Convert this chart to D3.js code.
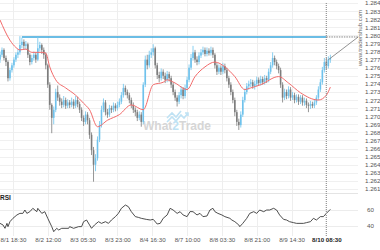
<!DOCTYPE html>
<html>
<head>
<meta charset="utf-8">
<script src="https://cdn.jsdelivr.net/npm/d3@7"></script>
<style>
  body { margin: 0; background: #fff; }
  svg { display: block; font-family: "Liberation Sans", Arial, sans-serif; }
</style>
</head>
<body>
<div id="chart"></div>
<script>
// hourly candles, open = previous close
const firstOpen = 1.2770;
const closes = [
  1.2776,1.2782,1.2772,1.2767,1.2747,1.2757,1.2763,1.2770,1.2776,1.2779,
  1.2788,1.2792,1.2787,1.2789,1.2776,1.2767,1.2772,1.2776,1.2770,1.2784,
  1.2788,1.2782,1.2776,1.2763,1.2739,1.2714,1.2698,1.2708,1.2730,1.2723,
  1.2718,1.2714,1.2720,1.2713,1.2717,1.2714,1.2718,1.2713,1.2720,1.2715,
  1.2708,1.2698,1.2693,1.2702,1.2695,1.2677,1.2658,1.2640,1.2648,1.2671,
  1.2689,1.2708,1.2717,1.2705,1.2702,1.2710,1.2708,1.2713,1.2710,1.2714,
  1.2718,1.2726,1.2735,1.2730,1.2726,1.2720,1.2714,1.2708,1.2705,1.2698,
  1.2702,1.2693,1.2739,1.2770,1.2763,1.2776,1.2779,1.2784,1.2763,1.2751,
  1.2747,1.2755,1.2750,1.2745,1.2752,1.2747,1.2739,1.2730,1.2723,1.2718,
  1.2726,1.2733,1.2725,1.2735,1.2745,1.2760,1.2772,1.2779,1.2770,1.2767,
  1.2775,1.2779,1.2782,1.2777,1.2781,1.2778,1.2782,1.2776,1.2763,1.2755,
  1.2760,1.2755,1.2762,1.2757,1.2747,1.2739,1.2730,1.2720,1.2705,1.2693,
  1.2689,1.2702,1.2720,1.2730,1.2737,1.2740,1.2742,1.2737,1.2740,1.2745,
  1.2741,1.2746,1.2742,1.2747,1.2745,1.2755,1.2763,1.2772,1.2767,1.2762,
  1.2757,1.2739,1.2723,1.2730,1.2725,1.2733,1.2723,1.2726,1.2720,1.2724,
  1.2718,1.2723,1.2717,1.2719,1.2714,1.2713,1.2715,1.2713,1.2717,1.2723,
  1.2733,1.2742,1.2757,1.2767,1.2762,1.2770,1.2772
];
const highs = [
  1.2780,1.2785,1.2784,1.2775,1.2769,1.2760,1.2766,1.2773,1.2779,1.2783,
  1.2799,1.2797,1.2795,1.2793,1.2791,1.2778,1.2776,1.2780,1.2779,1.2798,
  1.2792,1.2790,1.2785,1.2779,1.2765,1.2742,1.2716,1.2712,1.2734,1.2738,
  1.2727,1.2722,1.2725,1.2723,1.2721,1.2720,1.2723,1.2721,1.2725,1.2724,
  1.2718,1.2711,1.2701,1.2706,1.2705,1.2698,1.2680,1.2662,1.2653,1.2675,
  1.2694,1.2713,1.2722,1.2720,1.2709,1.2714,1.2713,1.2717,1.2716,1.2718,
  1.2722,1.2730,1.2740,1.2738,1.2733,1.2729,1.2723,1.2717,1.2711,1.2708,
  1.2706,1.2705,1.2742,1.2775,1.2776,1.2781,1.2784,1.2789,1.2786,1.2766,
  1.2755,1.2759,1.2758,1.2754,1.2756,1.2755,1.2750,1.2742,1.2733,1.2726,
  1.2730,1.2737,1.2736,1.2739,1.2749,1.2764,1.2777,1.2787,1.2782,1.2774,
  1.2779,1.2783,1.2786,1.2785,1.2785,1.2784,1.2786,1.2785,1.2778,1.2766,
  1.2764,1.2763,1.2766,1.2765,1.2760,1.2750,1.2742,1.2733,1.2723,1.2708,
  1.2697,1.2706,1.2724,1.2734,1.2741,1.2744,1.2746,1.2745,1.2744,1.2749,
  1.2748,1.2750,1.2749,1.2751,1.2750,1.2759,1.2767,1.2779,1.2775,1.2770,
  1.2765,1.2760,1.2742,1.2734,1.2733,1.2737,1.2736,1.2730,1.2729,1.2727,
  1.2727,1.2726,1.2726,1.2723,1.2722,1.2717,1.2719,1.2718,1.2720,1.2726,
  1.2737,1.2746,1.2761,1.2772,1.2772,1.2774,1.2776
];
const lows = [
  1.2766,1.2773,1.2769,1.2762,1.2743,1.2744,1.2754,1.2760,1.2767,1.2772,
  1.2776,1.2784,1.2783,1.2782,1.2772,1.2763,1.2764,1.2769,1.2766,1.2768,
  1.2780,1.2777,1.2771,1.2758,1.2735,1.2708,1.2679,1.2690,1.2705,1.2719,
  1.2713,1.2710,1.2711,1.2709,1.2710,1.2710,1.2711,1.2709,1.2710,1.2711,
  1.2704,1.2694,1.2688,1.2690,1.2690,1.2672,1.2652,1.2619,1.2632,1.2645,
  1.2668,1.2686,1.2705,1.2701,1.2698,1.2699,1.2704,1.2705,1.2706,1.2707,
  1.2711,1.2715,1.2723,1.2726,1.2722,1.2716,1.2710,1.2704,1.2700,1.2694,
  1.2695,1.2687,1.2690,1.2736,1.2758,1.2760,1.2772,1.2775,1.2759,1.2746,
  1.2742,1.2744,1.2746,1.2741,1.2742,1.2743,1.2735,1.2726,1.2719,1.2712,
  1.2715,1.2722,1.2721,1.2722,1.2732,1.2742,1.2757,1.2769,1.2766,1.2763,
  1.2764,1.2772,1.2776,1.2774,1.2774,1.2775,1.2775,1.2772,1.2759,1.2751,
  1.2752,1.2751,1.2752,1.2753,1.2743,1.2735,1.2726,1.2716,1.2700,1.2688,
  1.2683,1.2686,1.2699,1.2717,1.2727,1.2733,1.2736,1.2734,1.2733,1.2737,
  1.2738,1.2738,1.2739,1.2739,1.2741,1.2742,1.2752,1.2760,1.2763,1.2758,
  1.2753,1.2735,1.2717,1.2720,1.2721,1.2722,1.2719,1.2720,1.2716,1.2717,
  1.2714,1.2715,1.2713,1.2713,1.2710,1.2705,1.2709,1.2710,1.2710,1.2714,
  1.2720,1.2730,1.2739,1.2754,1.2758,1.2759,1.2766
];

// moving average, read at points along the red line
const maHours  = [0, 5, 8, 10, 13, 16, 21, 23, 25, 28, 33, 38, 42, 45, 49, 54, 60, 66, 72, 77, 82, 84, 88, 94, 98, 103, 108, 113, 118, 123, 126, 131, 140, 145, 151, 160, 164, 166];
const maValues = [1.2819, 1.2794, 1.2785, 1.2782, 1.2783, 1.2779, 1.2779, 1.2778, 1.2761, 1.2745, 1.2735, 1.2726, 1.2716, 1.2708, 1.2687, 1.2695, 1.2702, 1.2714, 1.2708, 1.2739, 1.2742, 1.2745, 1.2741, 1.2733, 1.2749, 1.2761, 1.2767, 1.2761, 1.2749, 1.2733, 1.2735, 1.2739, 1.2749, 1.2741, 1.2729, 1.2720, 1.2726, 1.2736];

// RSI
const rsiHours = [0, 1.5, 2.5, 3.5, 4, 5, 6.5, 8.5, 10, 11.5, 12.5, 13.5, 15, 16.5, 18.5, 19, 21, 22.5, 24, 26, 27, 28.5, 29.5, 31, 34.5, 35, 37, 39.5, 41, 42, 43.5, 45, 46, 47.5, 49.5, 51, 53, 54.5, 56, 58, 59.5, 61, 63, 64.5, 66, 68, 69.5, 71, 73.5, 75.5, 77, 79, 80.5, 82, 84, 85.5, 87, 89, 90.5, 92, 94, 95.5, 97, 99, 100.5, 102, 104, 105.5, 107, 108, 109.5, 111.5, 113, 115.5, 116.5, 118, 120, 120.5, 122, 124, 125.5, 127.5, 129, 130.5, 132.5, 134, 135.5, 137.5, 139, 140.5, 142.5, 144, 145.5, 147.5, 149, 152.5, 154, 156, 157.5, 159, 161, 162.5, 164, 166];
const rsiValues = [43.3, 41.3, 37.1, 43.3, 39.2, 45.4, 49.6, 53.8, 55.8, 55.8, 60, 55.8, 57.9, 62.1, 57.9, 62.1, 55.8, 57.9, 49.6, 39.2, 32.9, 37.1, 35, 37.1, 37.1, 39.2, 37.1, 39.2, 39.2, 45.4, 47.5, 41.3, 37.1, 41.3, 45.4, 43.3, 45.4, 43.3, 47.5, 51.7, 55.8, 62.1, 66.2, 64.2, 57.9, 51.7, 50.8, 49.6, 48.3, 47.5, 48.3, 42.5, 43.3, 49.6, 53.8, 62.1, 60, 55.8, 57.9, 53.8, 51.7, 58, 57.9, 53.8, 55.8, 51.7, 52.5, 60, 62.1, 57.9, 55.8, 53.8, 51.7, 49.6, 47.5, 45.4, 41.3, 39.2, 43.3, 49.6, 55.8, 57.9, 55.8, 60, 57.9, 60, 60, 62.1, 60, 53.8, 48.3, 47.5, 45.4, 44.2, 43.3, 43.3, 44.2, 45.4, 49.6, 47.5, 51.7, 51.7, 55.8, 60.8];

const timeTicks  = [6.5, 24, 41.5, 59, 76.5, 94, 111.5, 129, 146.5, 164];
const timeLabels = ['8/1 18:30', '8/2 12:00', '8/3 05:30', '8/3 23:00', '8/4 16:30', '8/7 10:00', '8/8 03:30', '8/8 21:00', '8/9 14:30', '8/10 08:30'];
const priceTicks = [1.261, 1.262, 1.263, 1.264, 1.265, 1.266, 1.267, 1.268, 1.269, 1.270, 1.271, 1.272, 1.273, 1.274, 1.275, 1.276, 1.277, 1.278, 1.279, 1.280, 1.281, 1.282, 1.283, 1.284];
const rsiTicks = [40, 60];

const resistanceLevel = 1.2798;
const resistanceFrom = 11;   // first touch
const nowHour = 164;         // 8/10 08:30
const targetHour = 180;      // end of projection line

const w = 380;
const h = 250;

const x = d3.scaleLinear().domain([0, 100]).range([0, 199]);
const y = d3.scaleLinear().domain([1.261, 1.284]).range([189, 3]);
const yRsi = d3.scaleLinear().domain([40, 60]).range([226, 210]);

const svg = d3.select('#chart').append('svg')
  .attr('width', w)
  .attr('height', h);

// grid
svg.append('g')
  .selectAll('line')
  .data(priceTicks)
  .join('line')
  .attr('x1', 0).attr('x2', 358)
  .attr('y1', d => Math.round(y(d)) + 0.5).attr('y2', d => Math.round(y(d)) + 0.5)
  .attr('stroke', '#f0f0f0');

svg.append('g')
  .selectAll('line')
  .data(rsiTicks)
  .join('line')
  .attr('x1', 0).attr('x2', 358)
  .attr('y1', d => Math.round(yRsi(d)) + 0.5).attr('y2', d => Math.round(yRsi(d)) + 0.5)
  .attr('stroke', '#ececec');

svg.append('g')
  .selectAll('line')
  .data(timeTicks.slice(0, -1))
  .join('line')
  .attr('x1', d => Math.round(x(d)) + 0.5).attr('x2', d => Math.round(x(d)) + 0.5)
  .attr('y1', 0).attr('y2', 236)
  .attr('stroke', '#eeeeee');

// panel separator
svg.append('line')
  .attr('x1', 0).attr('x2', 358)
  .attr('y1', 193.5).attr('y2', 193.5)
  .attr('stroke', '#e4e4e4');

// What2Trade watermark
const wm = svg.append('g').attr('transform', 'translate(177, 130)');
wm.append('path')
  .attr('d', 'M-10,-8 L-5,-13 L-1,-9 L4,-15 L7,-12 L11,-17 M8,-17 L11,-17 L11,-14 M-10,-12 L-5,-17 L-1,-13 L4,-19')
  .attr('fill', 'none')
  .attr('stroke', '#bfe2f4')
  .attr('stroke-width', 1.6);
const wmText = wm.append('text')
  .attr('text-anchor', 'middle')
  .attr('font-size', 12)
  .attr('font-weight', 'bold')
  .attr('fill', '#d6d6d6');
wmText.append('tspan').text('What');
wmText.append('tspan').attr('fill', '#bfe2f4').text('2');
wmText.append('tspan').text('Trade');

// resistance line
svg.append('line')
  .attr('x1', x(resistanceFrom)).attr('x2', x(nowHour))
  .attr('y1', y(resistanceLevel)).attr('y2', y(resistanceLevel))
  .attr('stroke', '#3aa7dd')
  .attr('stroke-width', 1.5);

// candles
const candles = closes.map((c, i) => ({
  t: i,
  o: i === 0 ? firstOpen : closes[i - 1],
  c: c,
  h: highs[i],
  l: lows[i]
}));

const cg = svg.append('g');
cg.selectAll('line')
  .data(candles)
  .join('line')
  .attr('x1', d => x(d.t)).attr('x2', d => x(d.t))
  .attr('y1', d => y(d.h)).attr('y2', d => y(d.l))
  .attr('stroke', d => d.c >= d.o ? '#7cc9ee' : '#8a8a8a')
  .attr('stroke-width', 0.9);
cg.selectAll('rect')
  .data(candles)
  .join('rect')
  .attr('x', d => x(d.t) - 0.8)
  .attr('width', 1.6)
  .attr('y', d => y(Math.max(d.o, d.c)))
  .attr('height', d => Math.max(0.8, Math.abs(y(d.o) - y(d.c))))
  .attr('fill', d => d.c >= d.o ? '#6fc2ec' : '#7d7d7d');

// moving average
svg.append('path')
  .datum(maHours.map((t, i) => [t, maValues[i]]))
  .attr('fill', 'none')
  .attr('stroke', '#f26a6a')
  .attr('stroke-width', 1)
  .attr('d', d3.line().x(d => x(d[0])).y(d => y(d[1])).curve(d3.curveMonotoneX));

// RSI line
svg.append('path')
  .datum(rsiHours.map((t, i) => [t, rsiValues[i]]))
  .attr('fill', 'none')
  .attr('stroke', '#3a3a3a')
  .attr('stroke-width', 0.9)
  .attr('d', d3.line().x(d => x(d[0])).y(d => yRsi(d[1])));

svg.append('text')
  .attr('x', 0).attr('y', 200)
  .attr('font-size', 6.5)
  .attr('font-weight', 'bold')
  .attr('fill', '#222')
  .text('RSI');

// now line
svg.append('line')
  .attr('x1', x(nowHour)).attr('x2', x(nowHour))
  .attr('y1', 3).attr('y2', 236)
  .attr('stroke', '#9a9a9a')
  .attr('stroke-width', 1.3)
  .attr('stroke-dasharray', '1,1');

// projection to resistance
const last = candles[candles.length - 1];
svg.append('line')
  .attr('x1', x(nowHour)).attr('x2', x(targetHour))
  .attr('y1', y(resistanceLevel)).attr('y2', y(resistanceLevel))
  .attr('stroke', '#666')
  .attr('stroke-width', 0.8)
  .attr('stroke-dasharray', '1.5,1');
svg.append('line')
  .attr('x1', x(last.t - 1)).attr('x2', x(targetHour))
  .attr('y1', y(last.h) + 5).attr('y2', y(resistanceLevel))
  .attr('stroke', '#777')
  .attr('stroke-width', 0.8);

// price axis
const yAxis = d3.axisRight(y)
  .tickValues(priceTicks)
  .tickFormat(d3.format('.3f'))
  .tickSize(0)
  .tickPadding(0);
const ya = svg.append('g')
  .attr('transform', 'translate(365, 0)')
  .call(yAxis);
ya.select('.domain').remove();
ya.selectAll('text').attr('font-size', 6.2).attr('fill', '#555').attr('font-family', '"Liberation Sans", Arial, sans-serif');

const rAxis = d3.axisRight(yRsi)
  .tickValues(rsiTicks)
  .tickSize(0)
  .tickPadding(0);
const ra = svg.append('g')
  .attr('transform', 'translate(367, 0)')
  .call(rAxis);
ra.select('.domain').remove();
ra.selectAll('text').attr('font-size', 6.2).attr('fill', '#555').attr('font-family', '"Liberation Sans", Arial, sans-serif');

// time axis
const xAxis = d3.axisBottom(x)
  .tickValues(timeTicks)
  .tickFormat((d, i) => timeLabels[i])
  .tickSize(0)
  .tickPadding(0);
const xa = svg.append('g')
  .attr('transform', 'translate(0, 238)')
  .call(xAxis);
xa.select('.domain').remove();
xa.selectAll('text')
  .attr('font-size', 6.2)
  .attr('fill', '#555')
  .attr('font-family', '"Liberation Sans", Arial, sans-serif');
xa.selectAll('.tick:last-of-type text').attr('fill', '#222').attr('font-weight', 'bold');

// vertical site watermark
svg.append('text')
  .attr('transform', 'translate(362, 66) rotate(-90)')
  .attr('font-size', 6)
  .attr('fill', '#666')
  .text('www.tradershub.com');
</script>
</body>
</html>
